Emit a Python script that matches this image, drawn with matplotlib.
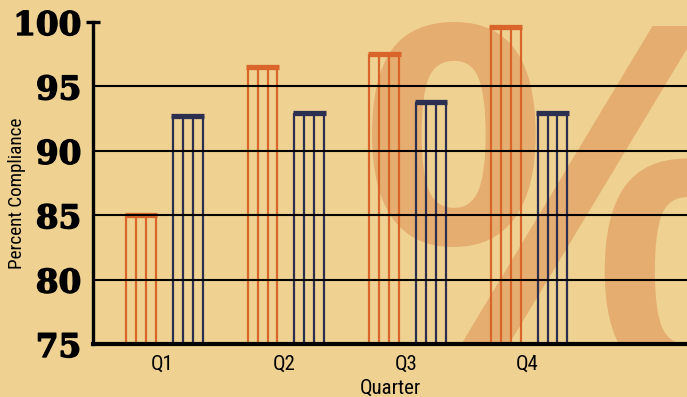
import matplotlib
matplotlib.use("Agg")
import matplotlib.pyplot as plt
from matplotlib import font_manager as fm
from matplotlib.font_manager import FontProperties
from matplotlib.textpath import TextPath
from matplotlib.patches import PathPatch
from matplotlib.transforms import Affine2D
import matplotlib.patheffects as pe
import numpy as np

# ---- data ----
quarters = ["Q1", "Q2", "Q3", "Q4"]
series_a = [85.0, 96.5, 97.5, 99.6]   # orange bars
series_b = [92.7, 92.9, 93.8, 92.9]   # navy bars
y_ticks = [75, 80, 85, 90, 95, 100]
grid_levels = [80, 85, 90, 95]

# ---- style ----
BG = "#EFD292"
ORANGE = "#D9652B"
NAVY = "#2C2F4F"
PCT = "#E5AD70"

def pick(fams):
    for f in fams:
        try:
            fm.findfont(f, fallback_to_default=False)
            return f
        except Exception:
            pass
    return "DejaVu Sans"

narrow = pick(["Liberation Sans Narrow", "Roboto Condensed", "DejaVu Sans"])

W, H = 687, 397
fig = plt.figure(figsize=(W / 100, H / 100), dpi=100, facecolor=BG)
ax = fig.add_axes([93/W, 53/H, 594/W, 322/H], facecolor=BG)

ax.set_ylim(75, 100)
ax.set_xlim(-0.572, 4.313)

# big percent watermark (glyph outline, slightly condensed), clipped to axes
tp = TextPath((0, 0), "%", size=1,
              prop=FontProperties(family="Liberation Sans", weight="bold"))
ext = tp.get_extents()
em = 370 * 100 / 72
tr = (Affine2D().translate(-ext.x0, -ext.y1)
      .scale(em * 0.92, em).translate(372, H - 22))
pct = PathPatch(tp, transform=tr, facecolor=PCT, edgecolor="none", zorder=0.5)
ax.add_artist(pct)
pct.set_clip_path(ax.patch)

x = np.arange(len(quarters))
off = 0.192
sp = 0.0815
lw_line = 1.6
lw_cap = 3.8
for vals, sgn, col in [(series_a, -1, ORANGE), (series_b, 1, NAVY)]:
    for xi, v in zip(x, vals):
        c = xi + sgn * off + 0.015
        xs = c + (np.arange(4) - 1.5) * sp
        ax.vlines(xs, 75, v, colors=col, linewidth=lw_line, zorder=2)
        ax.hlines(v, xs[0] - 0.012, xs[-1] + 0.012, colors=col,
                  linewidth=lw_cap, zorder=2.2)

# gridlines
ax.hlines(grid_levels, -0.572, 4.313, colors="black", linewidth=1.5, zorder=3)

# spines
for s in ["top", "right"]:
    ax.spines[s].set_visible(False)
ax.spines["left"].set_linewidth(2.4)
ax.spines["bottom"].set_linewidth(3)
ax.spines["left"].set_zorder(4)
ax.spines["bottom"].set_zorder(4)

# top marker tick at 100
ax.plot([-0.012, 0.012], [100, 100], transform=ax.get_yaxis_transform(),
        color="black", linewidth=2.4, clip_on=False, zorder=4,
        solid_capstyle="butt")

ax.set_yticks(y_ticks)
ax.set_yticklabels([str(t) for t in y_ticks], family="DejaVu Serif",
                   fontweight="bold", fontsize=23.5)
for lab in ax.get_yticklabels():
    lab.set_path_effects([pe.withStroke(linewidth=1.0, foreground="black")])
ax.tick_params(axis="y", length=0, pad=8.5)

ax.set_xticks(x)
ax.set_xticklabels(quarters, family=narrow, fontsize=15)
ax.tick_params(axis="x", length=0, pad=7.5)

ax.text(0.5, (344 - 394) / 322, "Quarter", transform=ax.transAxes, family=narrow,
        fontsize=15, ha="center", va="baseline")
ax.text((17 - 93) / 594, (344 - 193) / 322, "Percent Compliance",
        transform=ax.transAxes, family=narrow, fontsize=13.8,
        rotation=90, ha="center", va="center")

fig.savefig("out.png", dpi=100, facecolor=BG)
